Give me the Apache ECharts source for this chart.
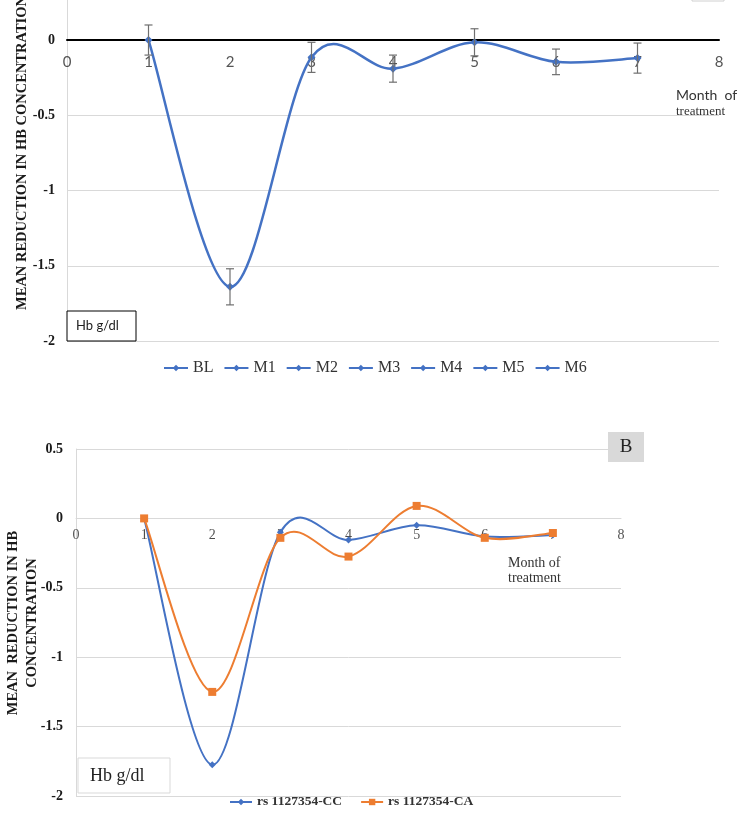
<!DOCTYPE html>
<html>
<head>
<meta charset="utf-8">
<script src="https://cdn.jsdelivr.net/npm/echarts@6/dist/echarts.min.js"></script>
<style>
  html, body { margin: 0; padding: 0; background: #fff; }
  #wrap { position: relative; width: 744px; height: 817px; overflow: hidden; }
  /* the top chart is cut at the top in the original, so the canvas is shifted up */
  #main { position: absolute; left: 0; top: -36px; width: 744px; height: 853px; }
</style>
</head>
<body>
<div id="wrap"><div id="main"></div></div>
<script>
// data
var months = [1, 2, 3, 4, 5, 6, 7];
var xTicks = [0, 1, 2, 3, 4, 5, 6, 7, 8];
var legendA = ['BL', 'M1', 'M2', 'M3', 'M4', 'M5', 'M6'];
var meanA = [0, -1.64, -0.115, -0.19, -0.015, -0.145, -0.12];
var errA = [0.1, 0.12, 0.1, 0.09, 0.09, 0.085, 0.1];
var nameCC = 'rs 1127354-CC';
var nameCA = 'rs 1127354-CA';
var meanCC = [0, -1.775, -0.10, -0.155, -0.05, -0.13, -0.12];
var meanCA = [0, -1.25, -0.14, -0.275, 0.09, -0.14, -0.105];

var D = 36; // canvas shift
var serif = '"Times New Roman", "Liberation Serif", serif';
var sans = 'Lato, "Open Sans", sans-serif';
var blue = '#4472C4';
var orange = '#ED7D31';

var chart = echarts.init(document.getElementById('main'));

var lineA = [], barsA = [], lineCC = [], lineCA = [], tickPts = [];
for (var i = 0; i < months.length; i++) {
    lineA.push([months[i], meanA[i]]);
    barsA.push([months[i], meanA[i] - errA[i], meanA[i] + errA[i]]);
    lineCC.push([months[i], meanCC[i]]);
    lineCA.push([months[i], meanCA[i]]);
}
for (var t = 0; t < xTicks.length; t++) tickPts.push([xTicks[t], 0]);

// Excel-like smoothed line: bezier segments, control points from the neighbours
function curveSeries(pts, color, width, idx) {
    return {
        type: 'custom',
        xAxisIndex: idx,
        yAxisIndex: idx,
        data: pts,
        encode: { x: 0, y: 1 },
        silent: true,
        z: 2,
        renderItem: function (params, api) {
            var k = params.dataIndex;
            if (k >= pts.length - 1) return { type: 'group', children: [] };
            var c = function (j) {
                j = Math.max(0, Math.min(pts.length - 1, j));
                return api.coord(pts[j]);
            };
            var p0 = c(k - 1), p1 = c(k), p2 = c(k + 1), p3 = c(k + 2);
            return {
                type: 'bezierCurve',
                shape: {
                    x1: p1[0], y1: p1[1], x2: p2[0], y2: p2[1],
                    cpx1: p1[0] + (p2[0] - p0[0]) / 6, cpy1: p1[1] + (p2[1] - p0[1]) / 6,
                    cpx2: p2[0] - (p3[0] - p1[0]) / 6, cpy2: p2[1] - (p3[1] - p1[1]) / 6
                },
                style: { stroke: color, lineWidth: width, fill: null }
            };
        }
    };
}

// x tick labels sitting on the zero line
function tickSeries(idx, font, size, color, dist) {
    return {
        type: 'scatter',
        xAxisIndex: idx,
        yAxisIndex: idx,
        data: tickPts,
        symbolSize: 0,
        silent: true,
        clip: false,
        z: 1,
        label: {
            show: true,
            position: 'bottom',
            distance: dist,
            fontFamily: font,
            fontSize: size,
            color: color,
            formatter: function (p) { return String(p.value[0]); }
        }
    };
}

var seriesList = [];
seriesList.push(tickSeries(0, sans, 15, '#2b2b2b', 15));
seriesList.push(tickSeries(1, serif, 14, '#1f1f1f', 10));

// the legend of chart A lists every month; only BL carries the markers
for (var j = 0; j < legendA.length; j++) {
    seriesList.push({
        name: legendA[j],
        type: 'line',
        xAxisIndex: 0,
        yAxisIndex: 0,
        data: j === 0 ? lineA : [],
        symbol: 'diamond',
        symbolSize: 8,
        itemStyle: { color: blue },
        lineStyle: { color: blue, width: 2.5, opacity: 0 },
        z: 4
    });
}
seriesList.push(curveSeries(lineA, blue, 2.5, 0));

// error bars
seriesList.push({
    type: 'custom',
    xAxisIndex: 0,
    yAxisIndex: 0,
    data: barsA,
    encode: { x: 0, y: [1, 2] },
    silent: true,
    z: 5,
    renderItem: function (params, api) {
        var x = api.value(0);
        var top = api.coord([x, api.value(2)]);
        var bot = api.coord([x, api.value(1)]);
        var w = 4;
        var st = { stroke: '#6f6f6f', lineWidth: 1.2 };
        return {
            type: 'group',
            children: [
                { type: 'line', shape: { x1: top[0], y1: top[1], x2: bot[0], y2: bot[1] }, style: st },
                { type: 'line', shape: { x1: top[0] - w, y1: top[1], x2: top[0] + w, y2: top[1] }, style: st },
                { type: 'line', shape: { x1: bot[0] - w, y1: bot[1], x2: bot[0] + w, y2: bot[1] }, style: st }
            ]
        };
    }
});

seriesList.push(curveSeries(lineCC, blue, 2, 1));
seriesList.push(curveSeries(lineCA, orange, 2, 1));
seriesList.push({
    name: nameCC,
    type: 'line',
    xAxisIndex: 1,
    yAxisIndex: 1,
    data: lineCC,
    symbol: 'diamond',
    symbolSize: 7,
    itemStyle: { color: blue },
    lineStyle: { color: blue, width: 2, opacity: 0 },
    z: 4
});
seriesList.push({
    name: nameCA,
    type: 'line',
    xAxisIndex: 1,
    yAxisIndex: 1,
    data: lineCA,
    symbol: 'rect',
    symbolSize: 8,
    itemStyle: { color: orange },
    lineStyle: { color: orange, width: 2, opacity: 0 },
    z: 4
});

var gridAxis = {
    axisLine: { show: true, lineStyle: { color: '#d9d9d9' } },
    axisTick: { show: false },
    splitLine: { lineStyle: { color: '#d9d9d9' } }
};

chart.setOption({
    animation: false,
    backgroundColor: '#fff',
    grid: [
        { left: 67, top: -35.2 + D, width: 652, height: 376.2, outerBoundsMode: 'none' },
        { left: 76, top: 449 + D, width: 545, height: 347, outerBoundsMode: 'none' }
    ],
    xAxis: [
        {
            type: 'value', gridIndex: 0, min: 0, max: 8, interval: 1,
            axisLine: { onZero: true, lineStyle: { color: '#000', width: 2 } },
            axisTick: { show: false },
            splitLine: { show: false },
            axisLabel: { show: false }
        },
        {
            type: 'value', gridIndex: 1, min: 0, max: 8, interval: 1,
            axisLine: { onZero: true, lineStyle: { color: '#d9d9d9', width: 1 } },
            axisTick: { show: false },
            splitLine: { show: false },
            axisLabel: { show: false }
        }
    ],
    yAxis: [
        echarts.util.merge({
            type: 'value', gridIndex: 0, min: -2, max: 0.5, interval: 0.5,
            axisLabel: { margin: 12, fontFamily: serif, fontWeight: 'bold', fontSize: 14, color: '#1a1a1a' }
        }, gridAxis),
        echarts.util.merge({
            type: 'value', gridIndex: 1, min: -2, max: 0.5, interval: 0.5,
            axisLabel: { margin: 13, fontFamily: serif, fontWeight: 'bold', fontSize: 14, color: '#1a1a1a' }
        }, gridAxis)
    ],
    legend: [
        {
            data: legendA,
            left: 163, top: 360 + D,
            padding: 0,
            itemWidth: 24, itemHeight: 8, itemGap: 10,
            lineStyle: { opacity: 1, width: 2 },
            textStyle: { fontFamily: serif, fontSize: 16, color: '#333' }
        },
        {
            data: [nameCC, nameCA],
            left: 229, top: 795 + D,
            padding: 0,
            itemWidth: 22, itemHeight: 8, itemGap: 18,
            lineStyle: { opacity: 1, width: 2 },
            textStyle: { fontFamily: serif, fontWeight: 'bold', fontSize: 13.5, color: '#333' }
        }
    ],
    graphic: [
        // chart A
        {
            type: 'text', x: 22, y: 153 + D, rotation: Math.PI / 2,
            style: { text: 'MEAN REDUCTION IN HB CONCENTRATION', font: 'bold 14.5px ' + serif, fill: '#1a1a1a', textAlign: 'center', textVerticalAlign: 'middle' }
        },
        {
            type: 'rect', shape: { x: 67, y: 311 + D, width: 69, height: 30 },
            style: { fill: '#fff', stroke: '#000', lineWidth: 1 }, z: 10
        },
        {
            type: 'text', x: 76, y: 326 + D, z: 11,
            style: { text: 'Hb g/dl', font: '13px ' + sans, fill: '#222', textVerticalAlign: 'middle' }
        },
        {
            type: 'text', x: 676, y: 95 + D,
            style: { text: 'Month  of', font: '14px ' + sans, fill: '#333', textVerticalAlign: 'middle' }
        },
        {
            type: 'text', x: 676, y: 112 + D,
            style: { text: 'treatment', font: '13px ' + serif, fill: '#333', textVerticalAlign: 'middle' }
        },
        {
            type: 'rect', shape: { x: 692, y: -28 + D, width: 32, height: 29 },
            style: { fill: '#fff', stroke: '#d0d0d0', lineWidth: 1 }
        },
        // chart B
        {
            type: 'rect', shape: { x: 608, y: 432 + D, width: 36, height: 30 },
            style: { fill: '#d9d9d9' }
        },
        {
            type: 'text', x: 626, y: 447 + D,
            style: { text: 'B', font: '19px ' + serif, fill: '#222', textAlign: 'center', textVerticalAlign: 'middle' }
        },
        {
            type: 'text', x: 508, y: 563 + D,
            style: { text: 'Month of', font: '14px ' + serif, fill: '#333', textVerticalAlign: 'middle' }
        },
        {
            type: 'text', x: 508, y: 578 + D,
            style: { text: 'treatment', font: '14px ' + serif, fill: '#333', textVerticalAlign: 'middle' }
        },
        {
            type: 'rect', shape: { x: 78, y: 758 + D, width: 92, height: 35 },
            style: { fill: '#fff', stroke: '#d9d9d9', lineWidth: 1 }, z: 10
        },
        {
            type: 'text', x: 90, y: 776 + D, z: 11,
            style: { text: 'Hb g/dl', font: '18px ' + serif, fill: '#222', textVerticalAlign: 'middle' }
        },
        {
            type: 'text', x: 13, y: 623 + D, rotation: Math.PI / 2,
            style: { text: 'MEAN  REDUCTION IN HB', font: 'bold 14.5px ' + serif, fill: '#1a1a1a', textAlign: 'center', textVerticalAlign: 'middle' }
        },
        {
            type: 'text', x: 32, y: 623 + D, rotation: Math.PI / 2,
            style: { text: 'CONCENTRATION', font: 'bold 14.5px ' + serif, fill: '#1a1a1a', textAlign: 'center', textVerticalAlign: 'middle' }
        }
    ],
    series: seriesList
});
</script>
</body>
</html>
